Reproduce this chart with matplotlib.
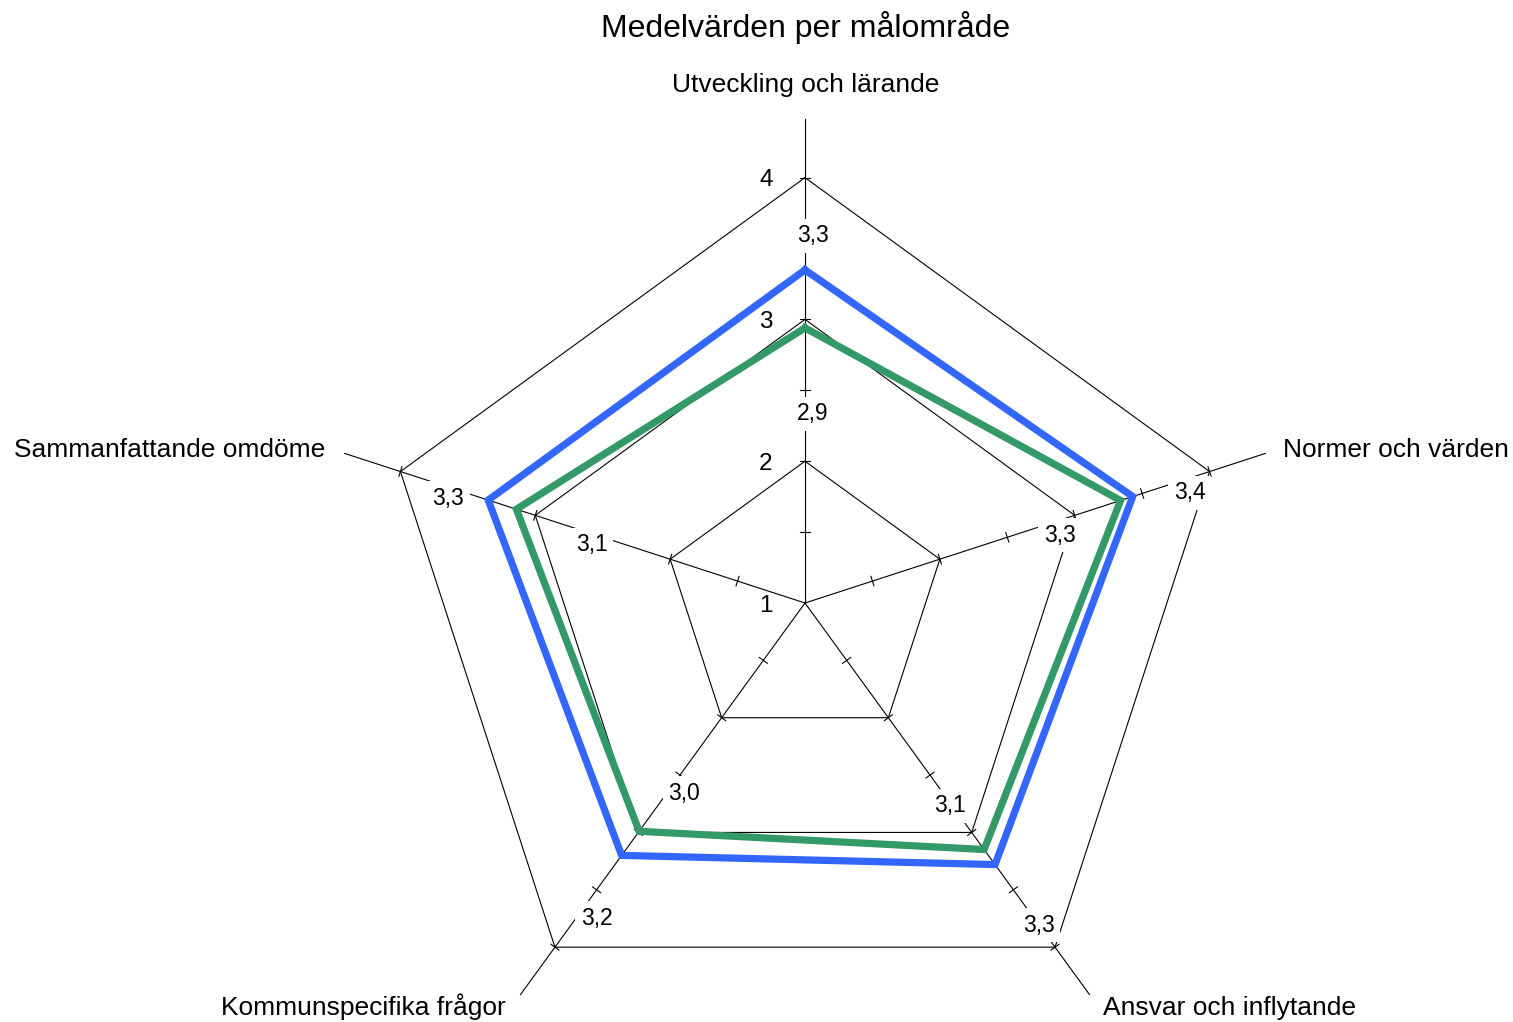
import numpy as np
import matplotlib
matplotlib.use("Agg")
import matplotlib.pyplot as plt

# ---------------- data ----------------
title = "Medelvärden per målområde"
categories = ["Utveckling och lärande", "Normer och värden", "Ansvar och inflytande",
              "Kommunspecifika frågor", "Sammanfattande omdöme"]
series_blue = [3.349, 3.43, 3.28, 3.20, 3.349]
series_green = [2.94, 3.34, 3.149, 2.99, 3.14]
scale_ticks = [1, 2, 3, 4]
grid_levels = [2, 3, 4]

# ---------------- layout / style ----------------
plt.rcParams["font.family"] = ["Liberation Sans", "DejaVu Sans"]
W, H, DPI = 1513, 1022, 100
cx, cy = 805, 603          # centre in pixels
ppu = 141.8                # pixels per scale unit
rmin, rmax, r_axis = 1.0, 4.0, 4.413
BLUE = "#3366ff"
GREEN = "#339966"

fig = plt.figure(figsize=(W / DPI, H / DPI), dpi=DPI)
ax = fig.add_axes([0, 0, 1, 1])
ax.set_xlim(-cx / ppu, (W - cx) / ppu)
ax.set_ylim(-(H - cy) / ppu, cy / ppu)
ax.axis("off")

n = len(categories)
angles = np.deg2rad(90 - 360 / n * np.arange(n))


def xy(v, a):
    r = v - rmin
    return r * np.cos(a), r * np.sin(a)


# grid pentagons
for lev in grid_levels:
    pts = [xy(lev, a) for a in np.append(angles, angles[0])]
    ax.plot([p[0] for p in pts], [p[1] for p in pts], color="black", lw=0.8, zorder=1)

# spokes and tick marks
tick_half = 5 / ppu
for a in angles:
    ex, ey = xy(r_axis, a)
    ax.plot([0, ex], [0, ey], color="black", lw=0.8, zorder=1)
    for t in np.arange(1.5, rmax + 0.01, 0.5):
        tx, ty = xy(t, a)
        px, py = -np.sin(a) * tick_half, np.cos(a) * tick_half
        ax.plot([tx - px, tx + px], [ty - py, ty + py], color="black", lw=0.8, zorder=1)

# scale labels on the top spoke
for t in scale_ticks:
    ax.annotate(str(t), xy(t, angles[0]), xytext=(-39, -8.5), textcoords="offset pixels",
                ha="center", va="baseline", fontsize=17.5, zorder=2)

# series
for vals, col, z in [(series_blue, BLUE, 3), (series_green, GREEN, 4)]:
    pts = [xy(v, a) for v, a in zip(vals + vals[:1], np.append(angles, angles[0]))]
    ax.plot([p[0] for p in pts], [p[1] for p in pts], color=col, lw=5.2,
            solid_joinstyle="miter", zorder=z)

# data labels
blue_off = [(7.5, 27.9), (56.8, -2.5), (44, -67.4), (-25, -69.6), (-40, -4.9)]
green_off = [(7.5, -92.1), (-61, -41.5), (-34, 37.5), (45, 31.3), (75.6, -41.8)]
for vals, offs in [(series_blue, blue_off), (series_green, green_off)]:
    for v, a, o in zip(vals, angles, offs):
        ax.annotate(f"{v:.1f}".replace(".", ","), xy(v, a), xytext=o,
                    textcoords="offset pixels", ha="center", va="baseline",
                    fontsize=16.5, zorder=2.5,
                    bbox=dict(facecolor="white", edgecolor="none", pad=4))

# category labels
cat_off = [((1, 27), "center"), ((17.7, -3.3), "left"), ((13.5, -20.4), "left"),
           ((-15, -20.4), "right"), ((-19.7, -3.3), "right")]
for c, a, (o, ha) in zip(categories, angles, cat_off):
    ax.annotate(c, xy(r_axis, a), xytext=o, textcoords="offset pixels",
                ha=ha, va="baseline", fontsize=19)

fig.text(806 / W, 1 - 37 / H, title, ha="center", va="baseline", fontsize=23)

fig.savefig("out.png", dpi=DPI, facecolor="white")
